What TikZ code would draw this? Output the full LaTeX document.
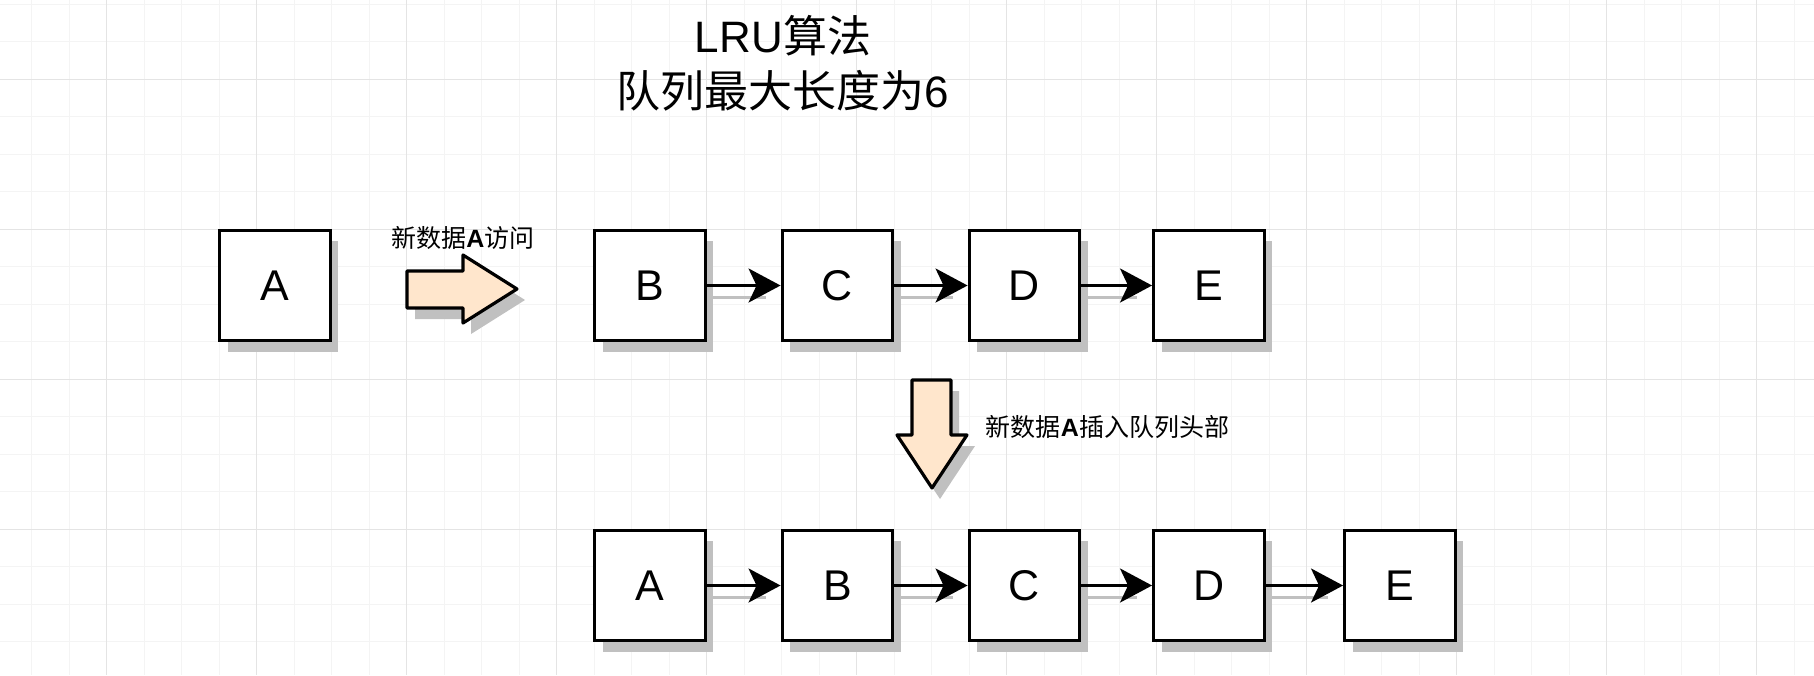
\documentclass[tikz,border=0pt]{standalone}
\usepackage{fontspec}
\setmainfont{Liberation Sans}
\newfontfamily\cjk{Noto Sans CJK SC}
\usetikzlibrary{arrows.meta,shadows}
\definecolor{gridmajor}{RGB}{228,228,228}
\definecolor{gridminor}{RGB}{244,244,244}
\definecolor{peach}{RGB}{255,230,204}
\definecolor{shadowgray}{RGB}{192,192,192}
\tikzset{
  box/.style={draw=black, line width=1.65pt, fill=white, minimum size=55.3pt, inner sep=0pt,
    font=\fontsize{21.5pt}{26pt}\selectfont,
    drop shadow={shadow xshift=4pt, shadow yshift=-5.5pt, fill=shadowgray, opacity=1}},
  conn/.style={line width=1.5pt, -{Stealth[length=16pt,width=17pt,inset=4pt]}},
  connshadow/.style={line width=1.5pt, draw=shadowgray},
  blockarrow/.style={draw=black, line width=1.6pt, fill=peach, line join=round,
    drop shadow={shadow xshift=4pt, shadow yshift=-5.5pt, fill=shadowgray, opacity=1}},
  lbl/.style={inner sep=0pt, font=\fontsize{12.5pt}{15pt}\selectfont},
  titlestyle/.style={inner sep=0pt, align=center, font=\fontsize{22pt}{27.5pt}\selectfont},
  minorline/.style={draw=gridminor, line width=0.5pt},
  majorline/.style={draw=gridmajor, line width=0.5pt}
}
\begin{document}
\begin{tikzpicture}[x=0.5pt,y=-0.5pt]
\useasboundingbox (0,0) rectangle (1814,675);
\fill[white] (0,0) rectangle (1814,675);
% grid
\foreach \k in {0,...,49} {
  \pgfmathsetmacro{\xx}{-5.83+37.5*\k}
  \draw[minorline] (\xx,0) -- (\xx,675);
}
\foreach \k in {0,...,18} {
  \pgfmathsetmacro{\yy}{4+37.5*\k}
  \draw[minorline] (0,\yy) -- (1814,\yy);
}
\foreach \k in {0,...,12} {
  \pgfmathsetmacro{\xx}{106.67+150*\k}
  \draw[majorline] (\xx,0) -- (\xx,675);
}
\foreach \k in {0,...,4} {
  \pgfmathsetmacro{\yy}{79+150*\k}
  \draw[majorline] (0,\yy) -- (1814,\yy);
}

% title
\node[titlestyle] (title) at (783,63) {LRU{\cjk 算法}\\{\cjk 队列最大长度为}6};

% top row
\node[box] (tA) at (275,285.5) {A};
\node[box] (tB) at (650,285.5) {B};
\node[box] (tC) at (837.5,285.5) {C};
\node[box] (tD) at (1024.5,285.5) {D};
\node[box] (tE) at (1209,285.5) {E};

% bottom row
\node[box] (bA) at (650,585.5) {A};
\node[box] (bB) at (837.5,585.5) {B};
\node[box] (bC) at (1024.5,585.5) {C};
\node[box] (bD) at (1209,585.5) {D};
\node[box] (bE) at (1400,585.5) {E};

% connector shadows
\foreach \a/\b in {tB/tC,tC/tD,tD/tE,bA/bB,bB/bC,bC/bD,bD/bE} {
  \draw[connshadow] ([xshift=3pt,yshift=-6pt]\a.east) -- ([xshift=-7.5pt,yshift=-6pt]\b.west);
}
% connectors
\foreach \a/\b in {tB/tC,tC/tD,tD/tE,bA/bB,bB/bC,bC/bD,bD/bE} {
  \draw[conn] (\a.east) -- (\b.west);
}

% block arrows
\draw[blockarrow] (407,271) -- (463,271) -- (463,255) -- (517,289) -- (463,323) -- (463,308) -- (407,308) -- cycle;
\draw[blockarrow] (912,380) -- (951,380) -- (951,435) -- (967,435) -- (932,488) -- (897,435) -- (912,435) -- cycle;

% labels
\node[lbl] (lab1) at (463,238) {{\cjk 新数据}\textbf{A}{\cjk 访问}};
\node[lbl] (lab2) at (1107.5,427) {{\cjk 新数据}\textbf{A}{\cjk 插入队列头部}};
\end{tikzpicture}
\end{document}
